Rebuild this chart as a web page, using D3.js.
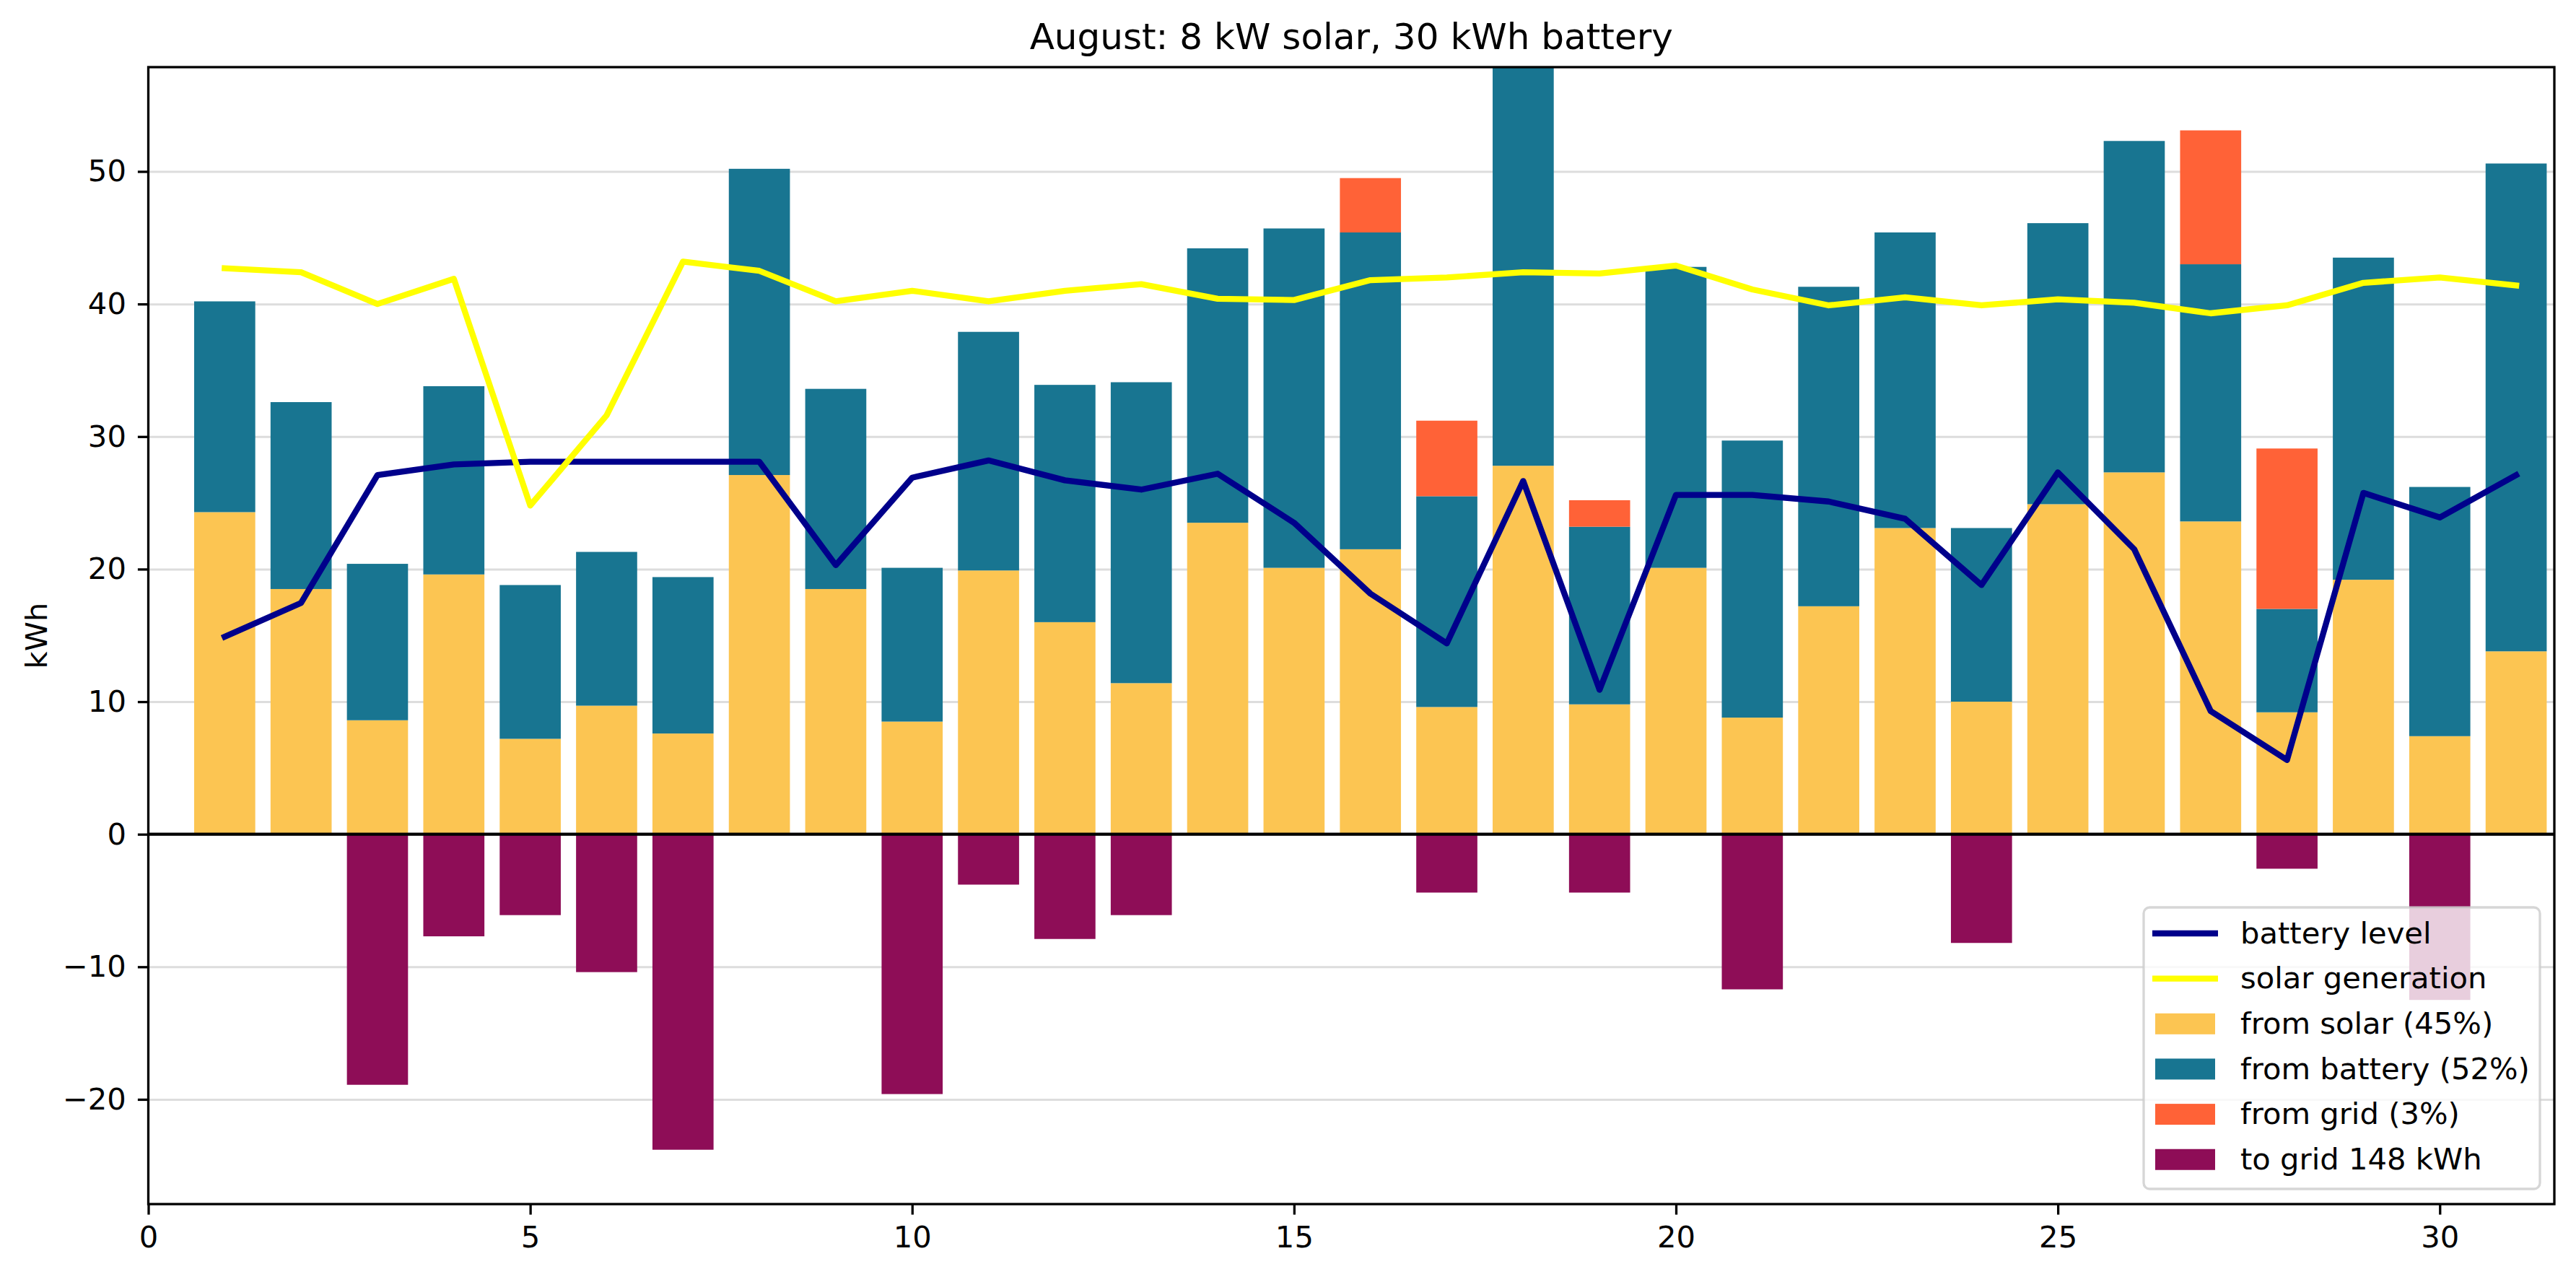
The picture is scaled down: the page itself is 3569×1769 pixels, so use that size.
<!DOCTYPE html>
<html>
<head>
<meta charset="utf-8">
<script src="https://cdn.jsdelivr.net/npm/d3@7"></script>
<style>
  html, body { margin: 0; padding: 0; background: #fff; }
  svg { display: block; font-family: "DejaVu Sans", sans-serif; }
</style>
</head>
<body>
<svg id="chart"></svg>
<script>
// daily energy values, August (kWh)
const days = [1, 2, 3, 4, 5, 6, 7, 8, 9, 10, 11, 12, 13, 14, 15, 16,
  17, 18, 19, 20, 21, 22, 23, 24, 25, 26, 27, 28, 29, 30, 31];
const fromSolar = [24.3, 18.5, 8.6, 19.6, 7.2, 9.7, 7.6, 27.1, 18.5, 8.5, 19.9, 16.0, 11.4, 23.5, 20.1, 21.5,
  9.6, 27.8, 9.8, 20.1, 8.8, 17.2, 23.1, 10.0, 24.9, 27.3, 23.6, 9.2, 19.2, 7.4, 13.8];
const fromBattery = [15.9, 14.1, 11.8, 14.2, 11.6, 11.6, 11.8, 23.1, 15.1, 11.6, 18.0, 17.9, 22.7, 20.7, 25.6, 23.9,
  15.9, 30.2, 13.4, 22.7, 20.9, 24.1, 22.3, 13.1, 21.2, 25.0, 19.4, 7.8, 24.3, 18.8, 36.8];
const fromGrid = [0, 0, 0, 0, 0, 0, 0, 0, 0, 0, 0, 0, 0, 0, 0, 4.1,
  5.7, 0, 2.0, 0, 0, 0, 0, 0, 0, 0, 10.1, 12.1, 0, 0, 0];
const toGrid = [0, 0, -18.9, -7.7, -6.1, -10.4, -23.8, 0, 0, -19.6, -3.8, -7.9, -6.1, 0, 0, 0,
  -4.4, 0, -4.4, 0, -11.7, 0, 0, -8.2, 0, 0, 0, -2.6, 0, -12.5, 0];
const batteryLevel = [14.9, 17.45, 27.1, 27.9, 28.1, 28.1, 28.1, 28.1, 20.3, 26.9, 28.2, 26.7, 26.0, 27.2, 23.5, 18.15,
  14.4, 26.65, 10.9, 25.6, 25.6, 25.1, 23.8, 18.8, 27.3, 21.5, 9.3, 5.6, 25.75, 23.9, 27.1];
const solarGeneration = [42.7, 42.4, 40.0, 41.9, 24.8, 31.6, 43.2, 42.5, 40.2, 41.0, 40.2, 41.0, 41.5, 40.4, 40.3, 41.8,
  42.0, 42.4, 42.3, 42.9, 41.1, 39.9, 40.5, 39.9, 40.35, 40.1, 39.3, 39.9, 41.6, 42.0, 41.4];

const xTicks = [0, 5, 10, 15, 20, 25, 30];
const yTicks = [-20, -10, 0, 10, 20, 30, 40, 50];
const title = 'August: 8 kW solar, 30 kWh battery';
const yLabel = 'kWh';
const legendItems = [
  { label: 'battery level', type: 'line', color: '#00008b' },
  { label: 'solar generation', type: 'line', color: '#ffff00' },
  { label: 'from solar (45%)', type: 'patch', color: '#fcc552' },
  { label: 'from battery (52%)', type: 'patch', color: '#187591' },
  { label: 'from grid (3%)', type: 'patch', color: '#ff6237' },
  { label: 'to grid 148 kWh', type: 'patch', color: '#8e0d57' }
];

const W = 3569, H = 1769;
const margin = { top: 93, right: 30, bottom: 101, left: 205.5 };
const width = W - margin.left - margin.right;
const height = H - margin.top - margin.bottom;
const fs = 41.7;

const svg = d3.select('#chart').attr('width', W).attr('height', H);

const x = d3.scaleLinear().domain([0, 31.5]).range([margin.left, margin.left + width]);
const y = d3.scaleLinear().domain([-27.9, 57.87]).range([margin.top + height, margin.top]);
const barW = x(0.8) - x(0);

svg.append('defs').append('clipPath').attr('id', 'plot-clip')
  .append('rect')
  .attr('x', margin.left).attr('y', margin.top)
  .attr('width', width).attr('height', height);

// horizontal grid
const grid = svg.append('g')
  .attr('transform', `translate(${margin.left},0)`)
  .call(d3.axisLeft(y).tickValues(yTicks).tickSize(-width).tickFormat(''));
grid.select('.domain').remove();
grid.selectAll('line').attr('stroke', '#dddddd').attr('stroke-width', 3);

const plot = svg.append('g').attr('clip-path', 'url(#plot-clip)');

// stacked consumption bars
const rows = days.map((d, i) => ({
  day: d,
  fromSolar: fromSolar[i],
  fromBattery: fromBattery[i],
  fromGrid: fromGrid[i]
}));
const keys = ['fromSolar', 'fromBattery', 'fromGrid'];
const stackColors = { fromSolar: '#fcc552', fromBattery: '#187591', fromGrid: '#ff6237' };
const series = d3.stack().keys(keys)(rows);

plot.selectAll('g.layer')
  .data(series)
  .join('g')
  .attr('class', 'layer')
  .attr('fill', s => stackColors[s.key])
  .selectAll('rect')
  .data(s => s.filter(p => p[1] - p[0] > 0))
  .join('rect')
  .attr('x', p => x(p.data.day) - barW / 2)
  .attr('y', p => y(p[1]))
  .attr('width', barW)
  .attr('height', p => y(p[0]) - y(p[1]));

// export to grid (negative)
plot.selectAll('rect.togrid')
  .data(days.map((d, i) => ({ day: d, v: toGrid[i] })).filter(d => d.v < 0))
  .join('rect')
  .attr('class', 'togrid')
  .attr('fill', '#8e0d57')
  .attr('x', d => x(d.day) - barW / 2)
  .attr('y', y(0))
  .attr('width', barW)
  .attr('height', d => y(d.v) - y(0));

// zero line
svg.append('line')
  .attr('x1', margin.left).attr('x2', margin.left + width)
  .attr('y1', y(0)).attr('y2', y(0))
  .attr('stroke', '#000').attr('stroke-width', 4.2);

// lines
const line = d3.line().x(d => x(d[0])).y(d => y(d[1]));
plot.append('path')
  .datum(days.map((d, i) => [d, batteryLevel[i]]))
  .attr('d', line)
  .attr('fill', 'none').attr('stroke', '#00008b').attr('stroke-width', 8.3)
  .attr('stroke-linejoin', 'round').attr('stroke-linecap', 'square');
plot.append('path')
  .datum(days.map((d, i) => [d, solarGeneration[i]]))
  .attr('d', line)
  .attr('fill', 'none').attr('stroke', '#ffff00').attr('stroke-width', 8.3)
  .attr('stroke-linejoin', 'round').attr('stroke-linecap', 'square');

// axes
const xAxis = svg.append('g')
  .attr('transform', `translate(0,${margin.top + height})`)
  .call(d3.axisBottom(x).tickValues(xTicks).tickSize(14.6).tickPadding(16).tickFormat(d3.format('d')));
const yAxis = svg.append('g')
  .attr('transform', `translate(${margin.left},0)`)
  .call(d3.axisLeft(y).tickValues(yTicks).tickSize(14.6).tickPadding(16).tickFormat(d3.format('d')));
[xAxis, yAxis].forEach(a => {
  a.select('.domain').remove();
  a.selectAll('line').attr('stroke', '#000').attr('stroke-width', 3.3);
  a.selectAll('text').attr('fill', '#000').attr('font-size', fs + 'px')
    .attr('font-family', '"DejaVu Sans", sans-serif');
});

// frame
svg.append('rect')
  .attr('x', margin.left).attr('y', margin.top)
  .attr('width', width).attr('height', height)
  .attr('fill', 'none').attr('stroke', '#000').attr('stroke-width', 3.3);

// title and y label
svg.append('text')
  .attr('x', margin.left + width / 2)
  .attr('y', 68)
  .attr('text-anchor', 'middle')
  .attr('font-size', '50px')
  .text(title);
svg.append('text')
  .attr('transform', `translate(65,${margin.top + height / 2}) rotate(-90)`)
  .attr('text-anchor', 'middle')
  .attr('font-size', fs + 'px')
  .text(yLabel);

// legend
const legend = svg.append('g').attr('transform', 'translate(2970,1257)');
legend.append('rect')
  .attr('width', 549).attr('height', 390)
  .attr('rx', 8.3).attr('ry', 8.3)
  .attr('fill', '#fff').attr('fill-opacity', 0.8)
  .attr('stroke', '#cccccc').attr('stroke-opacity', 0.8).attr('stroke-width', 3.3);
const entry = legend.selectAll('g.entry')
  .data(legendItems)
  .join('g')
  .attr('class', 'entry')
  .attr('transform', (d, i) => `translate(0,${36 + i * 62.65})`);
entry.filter(d => d.type === 'line').append('line')
  .attr('x1', 12).attr('x2', 103)
  .attr('stroke', d => d.color).attr('stroke-width', 8.3);
entry.filter(d => d.type === 'patch').append('rect')
  .attr('x', 16).attr('y', -14.5)
  .attr('width', 83).attr('height', 29)
  .attr('fill', d => d.color);
entry.append('text')
  .attr('x', 134)
  .attr('dy', '0.33em')
  .attr('font-size', fs + 'px')
  .text(d => d.label);
</script>
</body>
</html>
